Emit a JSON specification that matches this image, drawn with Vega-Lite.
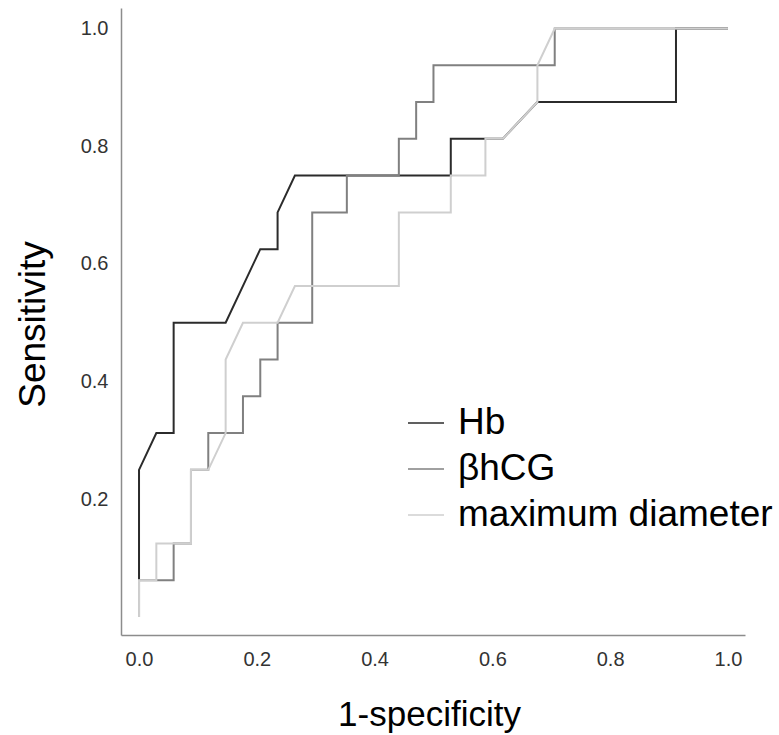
{
  "$schema": "https://vega.github.io/schema/vega-lite/v6.json",
  "width": 624,
  "height": 627,
  "autosize": {"type": "none"},
  "padding": {"left": 121, "top": 8, "right": 34, "bottom": 100},
  "background": "white",
  "config": {
    "view": {"stroke": null},
    "font": "Liberation Sans"
  },
  "data": {
    "values": [
      {"series": "Hb", "i": 0, "fpr": 0, "tpr": 0},
      {"series": "Hb", "i": 1, "fpr": 0, "tpr": 0.25},
      {"series": "Hb", "i": 2, "fpr": 0.0294, "tpr": 0.3125},
      {"series": "Hb", "i": 3, "fpr": 0.0588, "tpr": 0.3125},
      {"series": "Hb", "i": 4, "fpr": 0.0588, "tpr": 0.5},
      {"series": "Hb", "i": 5, "fpr": 0.1471, "tpr": 0.5},
      {"series": "Hb", "i": 6, "fpr": 0.2059, "tpr": 0.625},
      {"series": "Hb", "i": 7, "fpr": 0.2353, "tpr": 0.625},
      {"series": "Hb", "i": 8, "fpr": 0.2353, "tpr": 0.6875},
      {"series": "Hb", "i": 9, "fpr": 0.2647, "tpr": 0.75},
      {"series": "Hb", "i": 10, "fpr": 0.5294, "tpr": 0.75},
      {"series": "Hb", "i": 11, "fpr": 0.5294, "tpr": 0.8125},
      {"series": "Hb", "i": 12, "fpr": 0.6176, "tpr": 0.8125},
      {"series": "Hb", "i": 13, "fpr": 0.6765, "tpr": 0.875},
      {"series": "Hb", "i": 14, "fpr": 0.9118, "tpr": 0.875},
      {"series": "Hb", "i": 15, "fpr": 0.9118, "tpr": 1},
      {"series": "Hb", "i": 16, "fpr": 1, "tpr": 1},

      {"series": "βhCG", "i": 0, "fpr": 0, "tpr": 0},
      {"series": "βhCG", "i": 1, "fpr": 0, "tpr": 0.0625},
      {"series": "βhCG", "i": 2, "fpr": 0.0588, "tpr": 0.0625},
      {"series": "βhCG", "i": 3, "fpr": 0.0588, "tpr": 0.125},
      {"series": "βhCG", "i": 4, "fpr": 0.0882, "tpr": 0.125},
      {"series": "βhCG", "i": 5, "fpr": 0.0882, "tpr": 0.25},
      {"series": "βhCG", "i": 6, "fpr": 0.1176, "tpr": 0.25},
      {"series": "βhCG", "i": 7, "fpr": 0.1176, "tpr": 0.3125},
      {"series": "βhCG", "i": 8, "fpr": 0.1765, "tpr": 0.3125},
      {"series": "βhCG", "i": 9, "fpr": 0.1765, "tpr": 0.375},
      {"series": "βhCG", "i": 10, "fpr": 0.2059, "tpr": 0.375},
      {"series": "βhCG", "i": 11, "fpr": 0.2059, "tpr": 0.4375},
      {"series": "βhCG", "i": 12, "fpr": 0.2353, "tpr": 0.4375},
      {"series": "βhCG", "i": 13, "fpr": 0.2353, "tpr": 0.5},
      {"series": "βhCG", "i": 14, "fpr": 0.2941, "tpr": 0.5},
      {"series": "βhCG", "i": 15, "fpr": 0.2941, "tpr": 0.6875},
      {"series": "βhCG", "i": 16, "fpr": 0.3529, "tpr": 0.6875},
      {"series": "βhCG", "i": 17, "fpr": 0.3529, "tpr": 0.75},
      {"series": "βhCG", "i": 18, "fpr": 0.4412, "tpr": 0.75},
      {"series": "βhCG", "i": 19, "fpr": 0.4412, "tpr": 0.8125},
      {"series": "βhCG", "i": 20, "fpr": 0.4706, "tpr": 0.8125},
      {"series": "βhCG", "i": 21, "fpr": 0.4706, "tpr": 0.875},
      {"series": "βhCG", "i": 22, "fpr": 0.5, "tpr": 0.875},
      {"series": "βhCG", "i": 23, "fpr": 0.5, "tpr": 0.9375},
      {"series": "βhCG", "i": 24, "fpr": 0.7059, "tpr": 0.9375},
      {"series": "βhCG", "i": 25, "fpr": 0.7059, "tpr": 1},
      {"series": "βhCG", "i": 26, "fpr": 1, "tpr": 1},

      {"series": "maximum diameter", "i": 0, "fpr": 0, "tpr": 0},
      {"series": "maximum diameter", "i": 1, "fpr": 0, "tpr": 0.0625},
      {"series": "maximum diameter", "i": 2, "fpr": 0.0294, "tpr": 0.0625},
      {"series": "maximum diameter", "i": 3, "fpr": 0.0294, "tpr": 0.125},
      {"series": "maximum diameter", "i": 4, "fpr": 0.0882, "tpr": 0.125},
      {"series": "maximum diameter", "i": 5, "fpr": 0.0882, "tpr": 0.25},
      {"series": "maximum diameter", "i": 6, "fpr": 0.1176, "tpr": 0.25},
      {"series": "maximum diameter", "i": 7, "fpr": 0.1471, "tpr": 0.3125},
      {"series": "maximum diameter", "i": 8, "fpr": 0.1471, "tpr": 0.4375},
      {"series": "maximum diameter", "i": 9, "fpr": 0.1765, "tpr": 0.5},
      {"series": "maximum diameter", "i": 10, "fpr": 0.2353, "tpr": 0.5},
      {"series": "maximum diameter", "i": 11, "fpr": 0.2647, "tpr": 0.5625},
      {"series": "maximum diameter", "i": 12, "fpr": 0.4412, "tpr": 0.5625},
      {"series": "maximum diameter", "i": 13, "fpr": 0.4412, "tpr": 0.6875},
      {"series": "maximum diameter", "i": 14, "fpr": 0.5294, "tpr": 0.6875},
      {"series": "maximum diameter", "i": 15, "fpr": 0.5294, "tpr": 0.75},
      {"series": "maximum diameter", "i": 16, "fpr": 0.5882, "tpr": 0.75},
      {"series": "maximum diameter", "i": 17, "fpr": 0.5882, "tpr": 0.8125},
      {"series": "maximum diameter", "i": 18, "fpr": 0.6176, "tpr": 0.8125},
      {"series": "maximum diameter", "i": 19, "fpr": 0.6765, "tpr": 0.875},
      {"series": "maximum diameter", "i": 20, "fpr": 0.6765, "tpr": 0.9375},
      {"series": "maximum diameter", "i": 21, "fpr": 0.7059, "tpr": 1},
      {"series": "maximum diameter", "i": 22, "fpr": 1, "tpr": 1}
    ]
  },
  "mark": {"type": "line", "strokeWidth": 2, "interpolate": "linear"},
  "encoding": {
    "x": {
      "field": "fpr",
      "type": "quantitative",
      "scale": {"domain": [-0.0306, 1.029], "nice": false, "zero": false},
      "axis": {
        "title": "1-specificity",
        "values": [0, 0.2, 0.4, 0.6, 0.8, 1.0],
        "format": ".1f",
        "grid": false,
        "ticks": false,
        "domainColor": "#8c8c8c",
        "domainWidth": 1.5,
        "labelFont": "Liberation Sans",
        "labelFontSize": 20,
        "labelColor": "#333333",
        "labelPadding": 14,
        "titleFont": "Liberation Sans",
        "titleFontSize": 35,
        "titleFontWeight": "normal",
        "titleColor": "#000000",
        "titleX": 308,
        "titleY": 90,
        "titleBaseline": "alphabetic",
        "titleAlign": "center"
      }
    },
    "y": {
      "field": "tpr",
      "type": "quantitative",
      "scale": {"domain": [-0.0306, 1.0348], "nice": false, "zero": false},
      "axis": {
        "title": "Sensitivity",
        "values": [0.2, 0.4, 0.6, 0.8, 1.0],
        "format": ".1f",
        "grid": false,
        "ticks": false,
        "domainColor": "#8c8c8c",
        "domainWidth": 1.5,
        "labelFont": "Liberation Sans",
        "labelFontSize": 20,
        "labelColor": "#333333",
        "labelPadding": 13,
        "titleFont": "Liberation Sans",
        "titleFontSize": 37,
        "titleFontWeight": "normal",
        "titleColor": "#000000",
        "titleAngle": -90,
        "titleX": -87.5,
        "titleY": 316,
        "titleBaseline": "middle",
        "titleAlign": "center"
      }
    },
    "color": {
      "field": "series",
      "type": "nominal",
      "scale": {
        "domain": ["Hb", "βhCG", "maximum diameter"],
        "range": ["#2b2b2b", "#808080", "#cfcfcf"]
      },
      "legend": {
        "title": null,
        "orient": "none",
        "legendX": 286,
        "legendY": 396,
        "padding": 0,
        "symbolType": "stroke",
        "symbolSize": 1296,
        "symbolStrokeWidth": 1.5,
        "labelFont": "Liberation Sans",
        "labelFontSize": 37,
        "labelLimit": 500,
        "labelColor": "#000000",
        "labelOffset": 13,
        "rowPadding": 9
      }
    },
    "order": {"field": "i", "type": "quantitative"}
  }
}
